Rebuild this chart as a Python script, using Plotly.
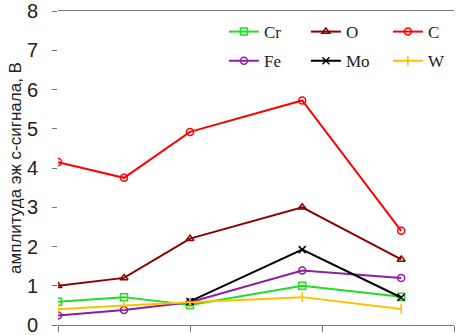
import plotly.graph_objects as go

x_vals = [0, 5, 10, 18.5, 26]
cr = [0.59, 0.71, 0.51, 1.0, 0.72]
o = [1.0, 1.2, 2.2, 3.0, 1.67]
c = [4.15, 3.75, 4.92, 5.72, 2.4]
fe = [0.24, 0.38, 0.58, 1.39, 1.2]
mo = [None, None, 0.6, 1.92, 0.7]
w = [0.4, 0.5, 0.58, 0.71, 0.41]
y_title = "амплитуда эж с-сигнала, В"

series = [
    ("Cr", cr, "#22dd22", "square-open", "legend"),
    ("O", o, "#8b0000", "triangle-up-open", "legend"),
    ("C", c, "#ff0000", "circle-open", "legend"),
    ("Fe", fe, "#8e1f9e", "circle-open", "legend2"),
    ("Mo", mo, "#000000", "x-thin-open", "legend2"),
    ("W", w, "#ffc000", "line-ns-open", "legend2"),
]

fig = go.Figure()
for name, ys, col, sym, lg in series:
    fig.add_trace(go.Scatter(
        x=x_vals, y=ys, name=name, mode="lines+markers",
        line=dict(color=col, width=2),
        marker=dict(symbol=sym, size=7, color=col, line=dict(color=col, width=1.5)),
        legend=lg,
    ))

legend_common = dict(
    orientation="h", xanchor="left", yanchor="middle",
    font=dict(family="Liberation Serif", size=17, color="#222"),
    bgcolor="rgba(0,0,0,0)", entrywidth=37, entrywidthmode="pixels",
    itemwidth=30, tracegroupgap=0,
)

fig.update_layout(
    width=470, height=335,
    margin=dict(l=58, r=16, t=11, b=10, autoexpand=False),
    paper_bgcolor="white", plot_bgcolor="white",
    showlegend=True,
    legend=dict(x=0.419, y=0.933, **legend_common),
    legend2=dict(x=0.419, y=0.84, **legend_common),
    xaxis=dict(range=[0, 30], tickvals=[0, 10, 20, 30], showticklabels=False,
               showgrid=False, zeroline=False, showline=True, mirror=True,
               linecolor="#777", linewidth=1, ticks="outside", ticklen=6,
               tickcolor="#777"),
    yaxis=dict(range=[0, 8], dtick=1, showgrid=False, zeroline=False,
               showline=False, ticks="outside", ticklen=5, tickcolor="#777",
               ticklabeloverflow="allow", ticklabelstandoff=10,
               tickfont=dict(family="Liberation Sans", size=20, color="#222"),
               title=dict(text=y_title, standoff=0,
                          font=dict(family="Liberation Sans", size=17, color="#222"))),
)

fig.write_html("out.html", post_script="document.body.style.margin='0';",
               config={"displayModeBar": False})
